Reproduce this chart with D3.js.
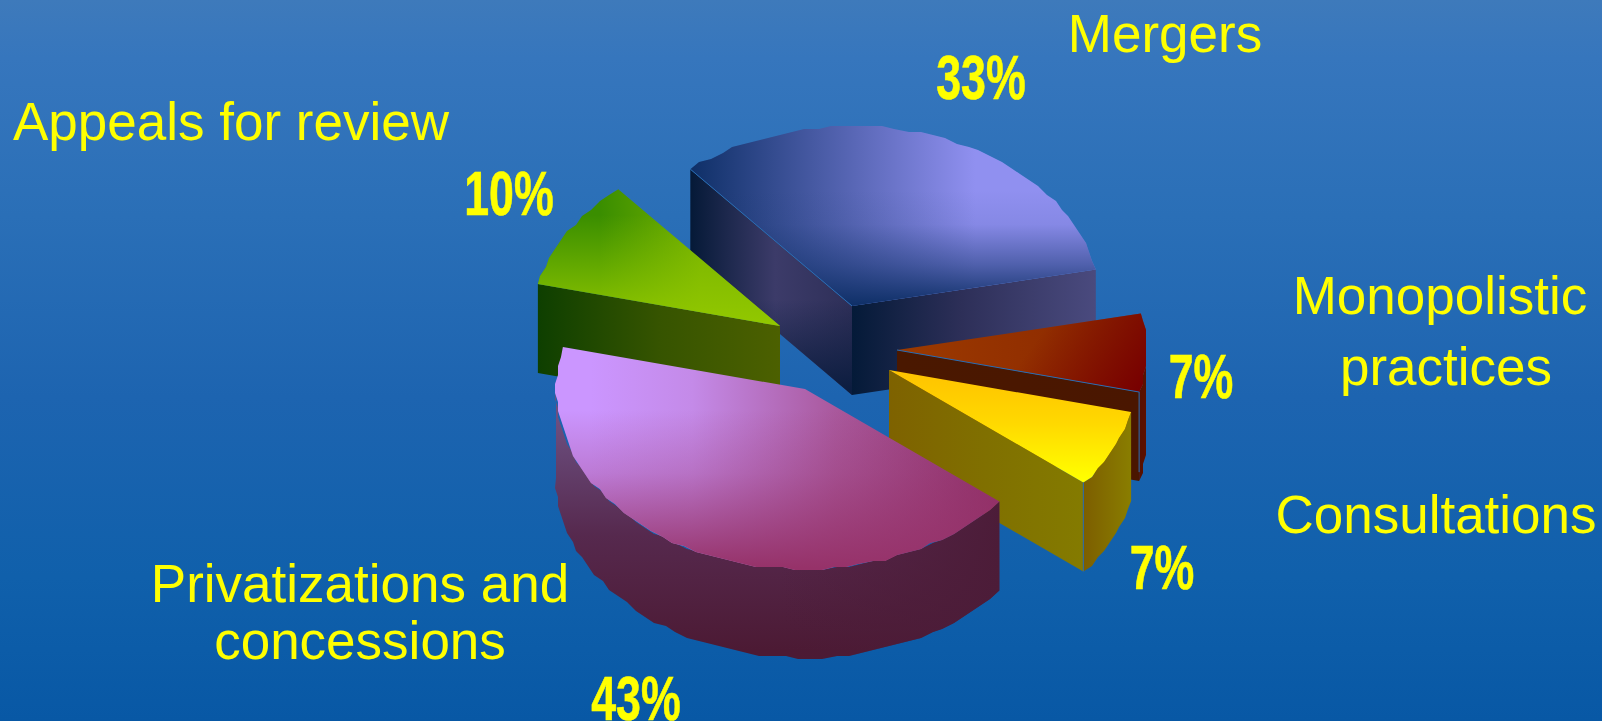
<!DOCTYPE html>
<html>
<head>
<meta charset="utf-8">
<title>Case types</title>
<script src="https://cdn.jsdelivr.net/npm/d3@7"></script>
<style>
html,body{margin:0;padding:0;background:#0a58a6;overflow:hidden}
svg{display:block}
text{font-family:"Liberation Sans",Arial,sans-serif;fill:#ffff00}
</style>
</head>
<body>
<svg id="chart" width="1602" height="721"></svg>
<script>
// Share of cases by type, clockwise from the wedge at the back of the pie
const categories = ["Mergers", "Monopolistic practices", "Consultations", "Privatizations and concessions", "Appeals for review"];
const shares = [33, 7, 7, 43, 10];

// Ellipse of the tilted pie and thickness of its wall
const W = 1602, H = 721;
const RX = 249, RY = 180, DEPTH = 89;
const START_DEG = -40.5;
const STEP = 3; // coarse raster of the curved rim

// Apex of each exploded wedge
const apexes = [[852, 306], [897, 350], [889, 370], [805, 389], [780, 326]];

// Category captions, one entry per text line
const captions = [
  {lines: ["Mergers"], x: [1165], y: [52]},
  {lines: ["Monopolistic", "practices"], x: [1440, 1446], y: [314, 385]},
  {lines: ["Consultations"], x: [1436], y: [533]},
  {lines: ["Privatizations and", "concessions"], x: [360, 360], y: [602, 659]},
  {lines: ["Appeals for review"], x: [231], y: [140]}
];
const percentAt = [[981, 99], [1201, 398], [1162, 589], [636, 720], [509, 215]];

// Shading: "a" is a base ramp, "b" an overlay ramp, each [x1,y1,x2,y2,[offset,colour,opacity]...]
const topShade = [
  {a: [692, 0, 975, 0, [0, "#0f3068"], [1, "#9090f0"]], b: [0, 190, 0, 305, [0, "#0f3068", 0], [.3, "#0f3068", .08], [.65, "#0f3068", .5], [1, "#0f3068", 1]]},
  {a: [897, 0, 1140, 0, [0, "#9c3a00"], [1, "#8a2600"]], b: [1040, 335, 1130, 400, [0, "#780000", 0], [1, "#780000", 1]]},
  {a: [0, 375, 0, 480, [0, "#ffc400"], [.45, "#ffd800"], [1, "#ffff00"]]},
  {a: [590, 0, 1000, 0, [0, "#cb96ff"], [.25, "#c48ae8"], [.6, "#a9589c"], [1, "#8f2f66"]], b: [0, 410, 0, 568, [0, "#963269", 0], [.4, "#963269", .28], [1, "#963269", 1]]},
  {a: [600, 0, 700, 0, [0, "#3a8e00"], [1, "#74b000"]], b: [0, 215, 0, 325, [0, "#92c800", 0], [1, "#92c800", 1]]}
];
const startWallShade = [
  {a: [692, 0, 852, 0, [0, "#061a38"], [.52, "#3c3b69"], [1, "#2e2f58"]], b: [0, 300, 0, 396, [0, "#0a1c3e", 0], [1, "#0a1c3e", 1]]},
  null, null, null,
  {a: [538, 0, 780, 0, [0, "#0e3f00"], [.5, "#365400"], [1, "#4c6000"]]}
];
const endWallShade = [
  {a: [852, 0, 1095, 0, [0, "#041a38"], [.45, "#2d2f58"], [1, "#4a4a7e"]]},
  {a: [897, 0, 1140, 0, [0, "#4a1800"], [1, "#4a1600"]]},
  {a: [889, 0, 1085, 0, [0, "#7e6200"], [.5, "#807000"], [1, "#847b00"]]},
  null, null
];
const rimShade = [
  null,
  {a: [1125, 0, 1150, 0, [0, "#4a1000"], [1, "#601000"]]},
  {a: [1085, 0, 1133, 0, [0, "#7d5f00"], [1, "#8a7f00"]]},
  {a: [0, 420, 0, 650, [0, "#6c4f80"], [.5, "#56294e"], [1, "#4c1a34"]], b: [780, 0, 1000, 0, [0, "#4c1c38", 0], [1, "#4c1c38", 1]]},
  {a: [538, 0, 600, 0, [0, "#0e3f00"], [1, "#1a4500"]]}
];
const EDGE = "#2a6db3";

const svg = d3.select("#chart");
const defs = svg.append("defs");
let gradCount = 0;

function ramp(spec) {
  const id = "ramp" + (gradCount++);
  const [x1, y1, x2, y2, ...stops] = spec;
  const g = defs.append("linearGradient").attr("id", id)
    .attr("gradientUnits", "userSpaceOnUse")
    .attr("x1", x1).attr("y1", y1).attr("x2", x2).attr("y2", y2);
  stops.forEach(s => g.append("stop").attr("offset", s[0]).attr("stop-color", s[1])
    .attr("stop-opacity", s.length > 2 ? s[2] : 1));
  return "url(#" + id + ")";
}

// Page background
svg.append("rect").attr("width", W).attr("height", H)
  .attr("fill", ramp([0, 0, 0, H, [0, "#3e7abb"], [.08, "#3676bd"], [.3, "#2a6fb7"], [.55, "#1d64b0"], [.8, "#1060ab"], [1, "#0858a5"]]));

const wedges = d3.pie().sort(null).value(d => d)
  .startAngle(START_DEG * Math.PI / 180)
  .endAngle(START_DEG * Math.PI / 180 + 2 * Math.PI)(shares);

const path = d3.line();
const px = (c, a) => [c[0] + RX * Math.sin(a), c[1] - RY * Math.cos(a)];

// Rim as a slightly rough polyline; both ends stay on the true ellipse
function rim(c, a0, a1) {
  const n = Math.max(2, Math.ceil((a1 - a0) / (3 * Math.PI / 180)));
  const t = d3.scaleLinear().domain([0, n]).range([a0, a1]);
  const pts = [px(c, a0)];
  for (let i = 1; i < n; i++) {
    const p = px(c, t(i));
    pts.push([Math.round(p[0] / STEP) * STEP, Math.round(p[1] / STEP) * STEP]);
  }
  pts.push(px(c, a1));
  return pts;
}
const drop = pts => pts.map(p => [p[0], p[1] + DEPTH]).reverse();

function face(layer, pts, shade) {
  if (!shade) return;
  layer.append("path").attr("d", path(pts) + "Z").attr("fill", ramp(shade.a));
  if (shade.b) layer.append("path").attr("d", path(pts) + "Z").attr("fill", ramp(shade.b));
}

// Back to front: Mergers, Appeals, Monopolistic, Consultations, Privatizations
const paintOrder = [0, 4, 1, 2, 3];
const pie = svg.append("g");

paintOrder.forEach(i => {
  const w = wedges[i], c = apexes[i], g = pie.append("g");
  const a0 = w.startAngle, a1 = w.endAngle;

  // Radial walls are seen only when they turn towards the viewer
  if (Math.sin(a0) < 0) {
    const e = [c, px(c, a0)];
    face(g, e.concat(drop(e)), startWallShade[i]);
  }
  if (Math.sin(a1) > 0) {
    const e = [c, px(c, a1)];
    face(g, e.concat(drop(e)), endWallShade[i]);
  }
  // Curved wall: the part of the rim on the near half of the ellipse
  const lo = Math.max(a0, Math.PI / 2), hi = Math.min(a1, 3 * Math.PI / 2);
  if (hi > lo) {
    const r = rim(c, lo, hi);
    face(g, r.concat(drop(r)), rimShade[i]);
  }
  // Top face
  const top = [c].concat(rim(c, a0, a1));
  face(g, top, topShade[i]);

  // Thin light seams along some of the edges
  const seam = (p, q) => g.append("path").attr("d", path([p, q]))
    .attr("stroke", EDGE).attr("stroke-width", 1).attr("fill", "none");
  if (i === 0) seam(c, px(c, a0));
  if (i === 1) {
    const p = px(c, a1);
    seam(c, p);
    seam(p, [p[0], p[1] + DEPTH * .9]);
  }
  if (i === 2) {
    const p = px(c, a1);
    seam(p, [p[0], p[1] + DEPTH]);
  }
});

// Category captions
captions.forEach(cap => cap.lines.forEach((line, k) => {
  svg.append("text").attr("x", cap.x[k]).attr("y", cap.y[k])
    .attr("text-anchor", "middle").attr("font-size", 53).text(line);
}));

// Condensed bold percentages
shares.forEach((v, i) => {
  svg.append("text")
    .attr("transform", `translate(${percentAt[i][0]},${percentAt[i][1]}) scale(.71,1)`)
    .attr("text-anchor", "middle").attr("font-size", 63).attr("font-weight", 700)
    .attr("stroke", "#ffff00").attr("stroke-width", .6)
    .text(v + "%");
});
</script>
</body>
</html>
